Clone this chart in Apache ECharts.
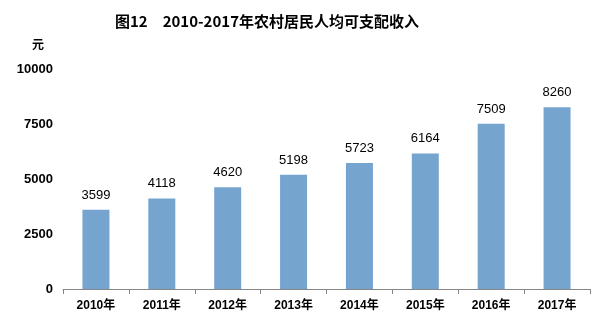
<!DOCTYPE html>
<html><head><meta charset="utf-8">
<script src="https://cdn.jsdelivr.net/npm/echarts@6/dist/echarts.min.js"></script>
<style>html,body{margin:0;padding:0;background:#fff}#c{width:600px;height:322px}</style>
</head><body><div id="c"></div>
<script>
const categories = ['2010年','2011年','2012年','2013年','2014年','2015年','2016年','2017年'];
const income = [3599, 4118, 4620, 5198, 5723, 6164, 7509, 8260];
const yTicks = [0, 2500, 5000, 7500, 10000];
const titleText = '图12　2010-2017年农村居民人均可支配收入';
const unitText = '元';

const chart = echarts.init(document.getElementById('c'), null, {renderer:'canvas'});
chart.setOption({
  animation:false,
  backgroundColor:'#fff',
  title:{text:titleText,left:262,top:9,textAlign:'center',
    textStyle:{fontFamily:'"Noto Sans CJK SC"',fontSize:15,fontWeight:'bold',color:'#000'}},
  graphic:[{type:'text',left:32,top:38,style:{text:unitText,font:'bold 12px "Noto Sans CJK SC"',fill:'#000'}}],
  grid:{left:63,right:10,top:69,bottom:33,containLabel:false},
  xAxis:{type:'category',data:categories,
    axisLine:{lineStyle:{color:'#868686',width:1}},
    axisTick:{show:true,length:5,inside:false,alignWithLabel:false,lineStyle:{color:'#868686'}},
    axisLabel:{color:'#000',fontSize:12,fontWeight:'bold',fontFamily:'Liberation Sans, "Noto Sans CJK SC"',margin:11}},
  yAxis:{type:'value',min:yTicks[0],max:yTicks[yTicks.length-1],interval:2500,
    axisLine:{show:false},axisTick:{show:false},splitLine:{show:false},
    axisLabel:{color:'#000',fontSize:13,fontWeight:'bold',fontFamily:'Liberation Sans',margin:10,
      formatter:function(v){return String(v);}}},
  series:[{type:'bar',data:income,barWidth:27,
    itemStyle:{color:'#75A5CF'},
    label:{show:true,position:'top',distance:8,color:'#000',fontSize:13,fontFamily:'Liberation Sans'}}]
});
</script></body></html>
